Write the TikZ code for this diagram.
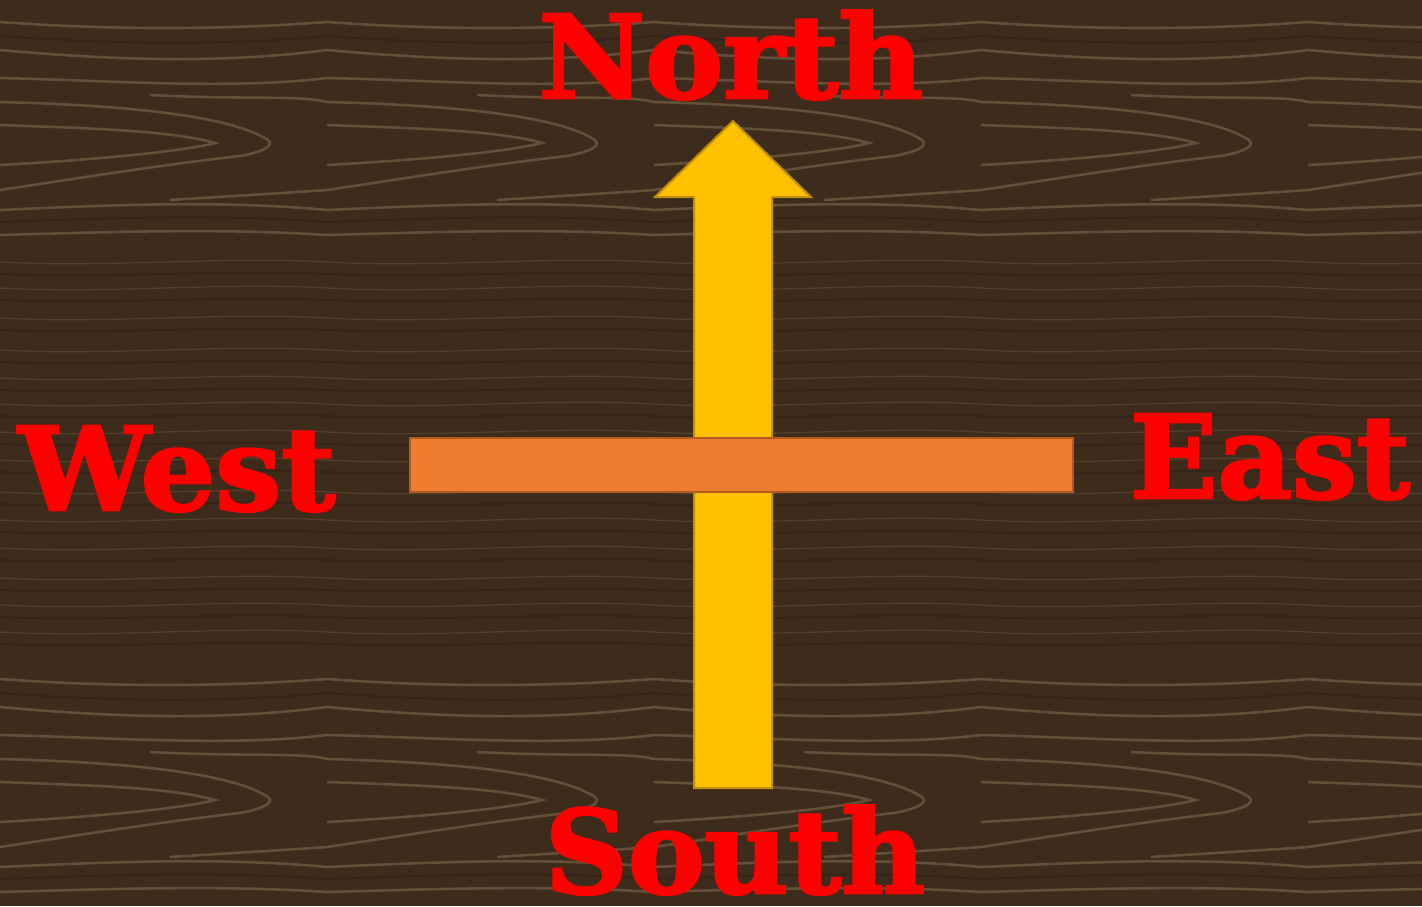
\documentclass[tikz,border=0pt]{standalone}
\usepackage{fontspec}
\newfontfamily\fat{DejaVu Serif}[BoldFeatures={FakeBold=2.5}]
\definecolor{wood}{HTML}{3D2B1C}
\definecolor{darkgrain}{HTML}{2E1F13}
\definecolor{grainc}{HTML}{85704F}
\definecolor{arrowfill}{HTML}{FFC000}
\definecolor{arrowline}{HTML}{BF9000}
\definecolor{barfill}{HTML}{ED7D31}
\definecolor{barline}{HTML}{B45A20}
\begin{document}
\begin{tikzpicture}[x=1pt,y=-1pt,
  cardinal/.style={text=red, font=\fat\bfseries\fontsize{115}{115}\selectfont, inner sep=0pt, anchor=base, text depth=0pt},
  grain/.style={draw=grainc, line width=2.6pt, opacity=.55},
  fine/.style={draw=grainc, line width=1.3pt, opacity=.32},
  dark/.style={draw=darkgrain, line width=2pt, opacity=.5}]
\fill[wood] (0,0) rectangle (1422,906);
\useasboundingbox (0,0) rectangle (1422,906);
\begin{scope}
\clip (0,0) rectangle (1422,906);
\foreach \dx in {-327,0,327,654,981,1308}{
 \foreach \dy in {-657,0,657}{
  \begin{scope}[shift={(\dx,\dy)}]
   \path[grain] (0,22) .. controls (110,30) and (220,30) .. (327,22);
   \path[grain] (0,50) .. controls (110,60) and (220,64) .. (327,50);
   \path[grain] (0,78) .. controls (100,80) and (230,90) .. (327,78);
   \path[grain] (0,102) .. controls (120,105) and (230,115) .. (268,140)
                 .. controls (275,146) and (262,152) .. (240,156)
                 .. controls (160,165) and (80,178) .. (0,190);
   \path[grain] (0,125) .. controls (80,128) and (170,130) .. (215,143)
                 .. controls (180,152) and (90,160) .. (0,165);
   \path[grain] (150,95) .. controls (250,100) and (300,95) .. (327,102);
   \path[grain] (170,200) .. controls (250,195) and (300,192) .. (327,190);
   \path[grain] (0,210) .. controls (110,205) and (220,200) .. (327,210);
   \path[grain] (0,235) .. controls (110,232) and (220,228) .. (327,235);
   \path[dark] (0,36) .. controls (110,44) and (220,46) .. (327,36);
   \path[dark] (0,222) .. controls (110,218) and (220,214) .. (327,222);
   \foreach \yy in {262,288,318,350,378,404,432,460,492,520,548,578,605,632}{
     \path[fine] (0,\yy) .. controls (110,\yy+6) and (220,\yy-6) .. (327,\yy);
     \path[dark] (0,\yy+12) .. controls (110,\yy+17) and (220,\yy+7) .. (327,\yy+12);
   }
  \end{scope}
 }
}
\end{scope}
% north-south arrow
\path[fill=arrowfill, draw=arrowline, line width=2pt, line join=miter]
  (694,788) -- (694,197) -- (655,197) -- (733,121) -- (811,197) -- (772,197) -- (772,788) -- cycle;
% east-west bar
\node[fill=barfill, draw=barline, line width=2pt, minimum width=663pt, minimum height=54pt, inner sep=0pt] (bar) at (741.5,465) {};
% labels
\node[cardinal] (north) at (731,98) {\scalebox{1.015}[1]{North}};
\node[cardinal] (west) at (177,510) {\scalebox{1.02}[1]{West}};
\node[cardinal] (east) at (1270,498) {East};
\node[cardinal] (south) at (735,893) {South};
\end{tikzpicture}
\end{document}
